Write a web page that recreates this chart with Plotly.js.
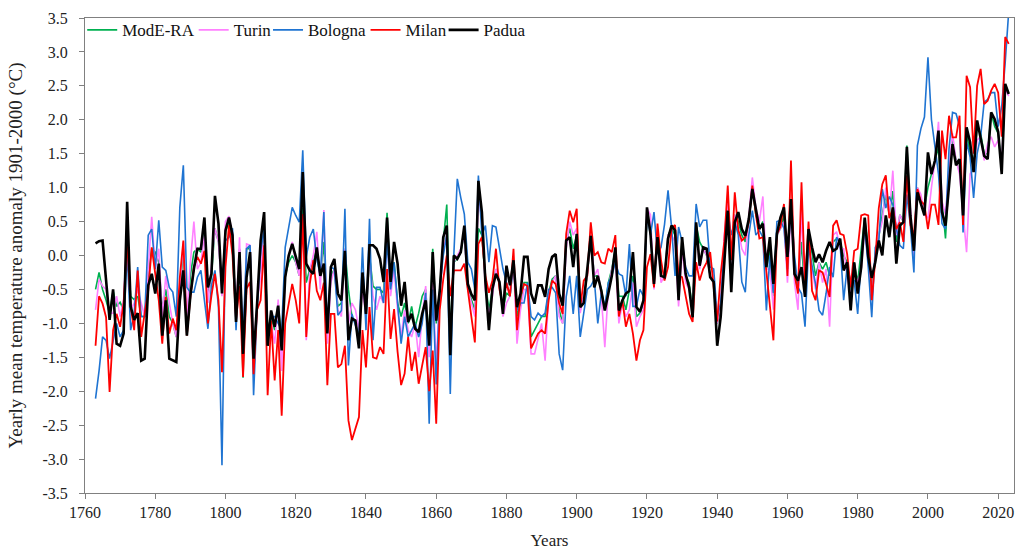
<!DOCTYPE html>
<html>
<head>
<meta charset="utf-8">
<script src="https://cdn.plot.ly/plotly-3.0.1.min.js"></script>
<style>
html,body{margin:0;padding:0;background:#ffffff;}
#chart{width:1025px;height:550px;}
</style>
</head>
<body>
<div id="chart"></div>
<script>
// ---- DATA (yearly anomalies, 1763-2023) ----
const firstYear = 1763;
const lastYear = 2023;

const modera = [
 -0.5,-0.25,-0.5,-0.66,-0.86,-0.52,-0.75,
 -0.69,-0.8,0.2,-0.6,-0.65,-0.6,-0.9,-0.9,-0.3,0.1,
 0.05,-0.1,-0.8,-0.5,-0.9,-1.0,-1.2,-0.6,0.1,-1.0,
 -0.3,0.05,0.1,0.05,0.35,-0.6,-0.3,0.4,0.2,-0.5,
 0.35,0.5,0.25,-0.95,0.1,-1.8,0.1,0.1,-1.55,-0.7,
 -0.2,0.4,-1.1,-0.9,-1.1,-0.7,-1.3,-0.3,-0.1,0.0,
 -0.1,-0.3,0.7,-0.4,-0.2,-0.1,0.1,-0.3,0.2,-1.1,
 -0.3,-0.2,-0.75,-0.7,0.1,-0.5,-0.9,-1.0,-1.2,-0.3,
 -0.9,0.0,-0.45,-0.5,-0.5,-0.55,0.63,-0.5,-0.1,-0.7,
 -0.9,-0.7,-1.0,-0.75,-1.05,-0.85,-0.6,-0.5,-1.3,0.1,
 -1.0,-0.5,0.2,0.75,-1.2,-0.1,-0.05,0.05,0.35,-0.5,
 -0.65,-0.8,0.4,0.3,-0.4,-0.8,-0.5,-0.2,-0.4,-0.8,
 -0.55,-0.6,-0.1,-0.9,-0.7,-0.4,-0.4,-1.2,-1.1,-1.0,
 -0.9,-0.9,-0.55,-0.35,-0.3,-0.8,-1.0,0.2,0.4,0.1,
 0.3,-0.8,-0.6,-0.3,0.3,-0.3,-0.3,-0.5,-0.8,-0.4,
 -0.2,0.1,-0.6,-0.6,-0.8,-0.5,-0.3,-0.9,-0.85,-0.7,
 0.6,0.4,-0.4,0.3,-0.3,-0.3,0.3,0.4,0.3,-0.5,
 0.2,-0.3,-0.4,-0.8,0.45,0.2,0.1,0.0,-0.3,-0.4,
 -1.0,-0.8,0.1,0.7,-0.4,0.6,0.5,0.3,0.2,0.5,
 1.0,0.6,0.4,0.5,-0.2,0.1,-0.6,0.3,0.4,0.6,
 -0.2,0.8,-0.3,-0.5,0.2,-0.6,0.35,0.0,-0.3,-0.1,
 -0.2,-0.1,-0.3,0.2,0.25,0.2,0.0,-0.1,-0.6,-0.1,
 -0.4,0.1,0.55,0.1,-0.5,-0.05,0.3,0.6,0.9,0.6,
 0.95,0.2,0.6,0.5,1.62,0.6,0.05,1.0,0.8,0.7,
 1.0,1.2,1.4,1.6,0.8,0.25,1.2,1.7,1.4,1.4,
 0.6,1.8,1.5,1.3,1.9,1.8,1.5,1.5,2.1,1.9,
 1.8,1.3,2.5,2.4
];

const turin = [
 -0.8,-0.35,-0.45,-0.5,-0.85,-0.85,-0.6,
 -0.9,-0.65,0.35,-0.8,-0.7,-0.5,-0.7,-0.9,-0.2,0.57,
 -0.2,0.1,-0.9,-0.3,-0.7,-1.0,-1.2,-0.5,0.2,-0.9,
 -0.1,0.5,-0.2,-0.1,0.3,-0.7,-0.2,0.4,0.2,-0.6,
 0.5,0.58,0.3,-0.9,0.27,-1.6,0.17,0.15,-1.4,-0.7,
 -0.3,0.5,-1.2,-1.0,-1.3,-0.65,-1.7,-0.3,0.0,0.2,
 -0.1,-0.3,0.6,-1.25,-0.2,0.0,0.35,-0.5,0.67,-1.3,
 -0.4,-0.2,-0.8,-0.9,0.1,-1.0,-0.7,-0.8,-1.1,-0.5,
 -0.9,0.0,-0.6,-0.8,-0.6,-0.7,0.3,-0.6,-0.2,-0.8,
 -1.2,-0.8,-1.1,-1.2,-1.0,-1.5,-0.9,-0.45,-1.5,-0.4,
 -1.6,-0.6,0.1,0.3,-1.3,-0.1,0.0,0.1,0.3,-0.5,
 -0.7,-0.9,0.9,0.5,-0.5,-0.9,-0.6,-0.2,-0.4,-0.9,
 -0.7,-0.6,-0.1,-1.3,-0.8,-0.5,-0.5,-1.45,-1.45,-1.2,
 -1.0,-1.55,-0.6,-0.4,-0.3,-0.9,-1.0,0.1,0.5,0.3,
 0.4,-0.85,-0.6,-0.3,0.3,-0.3,-0.2,-0.6,-1.35,-0.5,
 -0.2,0.0,-1.0,-0.7,-0.9,-0.8,-0.4,-1.05,-0.9,-0.8,
 0.7,0.6,-0.5,0.3,-0.4,-0.3,0.3,0.3,0.2,-0.75,
 0.1,-0.4,-0.5,-0.8,0.4,-0.2,0.1,0.0,-0.3,-0.4,
 -1.0,-0.7,0.3,0.8,-0.4,0.6,0.4,0.1,0.0,0.6,
 1.15,0.7,0.5,0.87,-0.2,-0.2,-0.8,0.3,0.4,0.5,
 -0.4,0.7,-0.4,-0.8,0.67,-0.6,0.3,-0.2,-0.5,-0.1,
 -0.4,-0.2,-1.05,0.3,0.35,0.1,0.1,-0.3,-0.6,-0.2,
 -0.4,-0.2,0.4,-0.1,-0.6,0.0,0.3,0.5,1.0,0.6,
 1.25,0.3,0.6,0.5,1.1,0.7,0.0,1.0,0.9,0.6,
 0.55,1.0,1.4,1.97,0.8,0.6,1.3,1.8,1.4,1.2,
 0.6,0.05,1.2,1.3,1.7,1.75,1.4,1.65,1.75,1.6,
 1.7,1.4,2.45,2.35
];

const bologna = [
 -2.11,-1.7,-1.2,-1.25,-1.52,-1.25,-1.0,
 -1.2,-1.1,0.05,-1.1,-0.85,-0.17,-0.9,-0.9,0.3,0.39,
 -0.2,0.52,-0.17,-0.22,-0.47,-0.54,-0.9,0.71,1.33,-0.47,
 -0.54,-0.54,-0.32,-0.22,-0.66,-1.08,-0.44,-0.22,-0.76,-3.09,
 0.22,0.27,0.4,-1.1,0.0,-1.2,0.1,0.15,-2.06,-0.8,
 0.05,0.4,-1.2,-0.9,-0.9,-1.0,-1.1,0.12,0.42,0.71,
 0.59,0.49,1.55,-0.02,0.27,0.39,-0.05,-0.3,0.64,-1.1,
 -0.17,-0.2,-0.88,-0.81,0.69,-1.62,-0.86,-1.05,-1.2,0.12,
 -1.1,0.54,-1.25,-0.47,-0.47,-0.7,0.2,-0.5,-0.1,-0.7,
 -1.3,-0.9,-1.2,-1.1,-1.0,-1.2,-1.0,-0.55,-2.48,-0.5,
 -1.9,-0.5,0.0,0.3,-2.04,0.0,1.13,0.85,0.61,-0.1,
 -0.2,-0.5,1.18,0.3,0.44,-0.1,0.44,0.42,0.1,-0.2,
 -0.4,-0.6,-0.1,-0.81,-0.7,-0.7,-0.4,-0.9,-0.95,-0.85,
 -0.9,-0.85,-0.5,-0.47,-0.55,-1.45,-1.69,-0.61,-0.3,-0.86,
 -0.3,-1.2,-0.85,-0.5,-0.45,-0.35,-1.0,-0.55,-0.75,-0.4,
 -0.3,-0.1,-0.27,-0.3,-0.6,0.17,-0.75,-0.75,-0.5,-0.6,
 0.6,0.3,0.64,0.02,0.12,0.46,0.96,0.42,-0.3,0.42,
 0.2,-0.17,-0.3,-0.3,0.76,0.42,0.52,0.52,-0.17,-0.2,
 -0.9,-0.7,0.1,0.66,0.3,0.5,0.3,-0.39,-0.54,0.3,
 0.66,0.3,0.37,0.27,-0.81,0.0,-0.55,0.5,0.52,0.4,
 -0.2,0.81,0.0,-0.47,-0.56,-1.05,0.12,-0.17,-0.42,-0.81,
 -0.88,-0.56,-0.17,-0.32,0.27,0.17,-0.66,-0.17,-0.37,-0.37,
 -0.86,-0.07,0.42,-0.17,-0.91,0.12,0.22,0.98,0.7,0.87,
 0.75,0.4,0.15,0.1,0.9,0.44,-0.25,1.62,1.87,2.04,
 2.92,2.0,1.62,1.2,0.47,0.39,1.57,2.11,2.09,1.91,
 0.34,1.67,1.45,0.85,1.5,1.75,2.26,2.3,2.4,2.4,
 1.9,2.2,2.85,3.6
];

const milan = [
 -1.33,-0.6,-0.71,-0.91,-2.01,-1.1,-0.86,
 -1.05,-0.7,0.22,-0.76,-1.1,-0.22,-1.2,-0.85,-0.52,0.12,
 -0.27,-0.66,-1.3,-0.61,-1.15,-0.93,-1.1,-0.32,0.22,-1.18,
 -0.61,-0.17,-0.02,-0.12,0.07,-1.0,-0.59,-0.27,-0.66,-1.72,
 -0.17,0.45,0.0,-0.95,-0.45,-1.79,-0.49,-0.39,-1.75,-0.8,
 -0.66,0.15,-2.06,-0.96,-1.84,-1.1,-2.36,-1.0,-0.71,-0.42,
 -0.66,-1.0,0.61,-1.2,-0.42,-0.07,-0.52,-0.66,-0.4,-1.91,
 -0.86,-0.86,-1.65,-1.6,-1.33,-2.43,-2.72,-2.55,-2.38,-1.1,
 -1.65,-0.76,-1.5,-1.52,-1.35,-1.45,-0.2,-1.23,-0.79,-1.42,
 -1.91,-1.74,-1.2,-1.7,-1.42,-1.89,-1.6,-1.35,-2.0,-1.4,
 -2.48,-0.8,-0.35,0.0,-0.6,-0.22,-0.22,-0.22,-0.12,-0.55,
 -0.9,-1.28,0.17,0.27,-0.3,-0.55,-0.37,0.1,-0.5,-0.75,
 -0.4,-0.6,0.1,-1.1,-0.6,-0.42,-0.45,-1.37,-1.25,-1.15,
 -1.1,-1.15,-0.66,-0.37,-0.42,-0.7,-0.86,0.32,0.66,0.49,
 0.69,-0.76,-0.37,-0.3,0.49,0.0,0.05,-0.1,-0.12,0.1,
 0.05,0.3,-0.9,-0.66,-1.05,-0.86,-1.15,-1.55,-1.25,-1.1,
 -0.17,0.02,-0.47,0.47,-0.07,-0.37,-0.17,0.4,0.45,-0.3,
 -0.32,-0.61,-0.86,-0.98,-0.1,-0.37,-0.2,-0.1,0.05,-0.47,
 -0.97,-0.27,0.2,1.03,-0.07,0.93,0.37,0.22,0.27,0.5,
 1.03,0.61,0.25,0.27,-0.27,-0.76,-1.25,0.32,0.42,0.76,
 -0.3,1.4,-0.27,-0.56,1.08,-0.42,0.5,-0.52,-0.66,-0.22,
 -0.25,-0.42,-0.61,0.44,0.52,0.32,0.3,0.02,-0.47,0.07,
 0.1,0.59,0.61,0.59,-0.66,-0.07,0.7,1.05,1.18,0.55,
 0.7,0.39,0.49,0.2,1.18,0.45,0.3,0.98,0.8,0.75,
 0.39,0.75,0.75,0.45,1.84,1.42,2.06,1.74,1.74,2.06,
 0.45,2.65,2.48,1.5,2.5,2.75,2.23,2.28,2.43,2.53,
 2.4,1.75,3.22,3.12
];

const padua = [
 0.18,0.21,0.22,-0.35,-0.95,-0.5,-1.3,
 -1.33,-1.15,0.79,-0.75,-0.95,-0.85,-1.55,-1.52,-0.44,-0.27,
 -0.56,-0.12,-1.18,-0.66,-1.52,-1.55,-1.57,-0.66,-0.22,-1.18,
 -0.59,-0.2,0.1,0.1,0.56,-0.47,-0.27,0.88,0.47,-0.56,
 0.37,0.56,0.3,-0.98,0.05,-1.45,-0.32,0.05,-1.52,-0.71,
 0.22,0.64,-1.33,-0.81,-1.05,-0.74,-1.4,-0.32,0.0,0.17,
 -0.02,-0.2,1.23,-0.12,-0.22,-0.27,0.12,-0.3,-0.12,-1.15,
 -0.17,-0.05,-0.56,-0.66,0.07,-1.25,-0.93,-0.96,-1.37,-0.25,
 -0.86,0.15,0.15,0.1,-0.05,-0.39,0.56,-0.39,0.2,-0.12,
 -0.74,-0.39,-0.98,-0.86,-1.08,-1.13,-0.86,-0.66,-1.33,0.05,
 -0.96,-0.52,0.27,0.44,-1.47,0.0,-0.05,0.05,0.44,-0.42,
 -0.57,-0.66,1.1,0.64,-0.39,-1.1,-0.49,-0.27,-0.39,-0.86,
 -0.15,-0.44,-0.07,-0.76,-0.56,-0.02,-0.02,-0.56,-0.71,-0.44,
 -0.44,-0.61,-0.2,-0.02,0.02,-0.56,-0.74,0.22,0.27,-0.17,
 0.32,-0.76,-0.7,-0.2,0.29,-0.47,-0.3,-0.52,-0.81,-0.56,
 -0.3,0.12,-0.81,-0.66,-0.56,-0.52,0.05,-0.76,-0.83,-0.66,
 0.71,0.32,-0.42,0.27,-0.3,-0.32,0.25,0.44,0.37,-0.66,
 0.27,-0.27,-0.47,-0.91,0.49,-0.15,0.12,0.1,-0.32,-0.39,
 -1.33,-0.9,-0.12,0.66,-0.54,0.49,0.64,0.39,0.29,0.54,
 0.98,0.66,0.39,0.47,-0.17,0.27,-0.42,0.32,0.56,0.71,
 -0.02,0.83,-0.27,-0.37,-0.17,-0.61,0.39,0.12,-0.1,0.02,
 -0.1,0.07,0.2,0.07,0.1,0.25,-0.22,-0.1,-0.81,-0.1,
 -0.56,-0.17,0.56,-0.02,-0.33,-0.1,0.22,0.0,0.59,0.27,
 0.71,-0.12,0.44,0.49,1.6,0.59,0.07,0.93,0.74,0.59,
 1.52,1.2,1.4,1.84,0.64,0.44,1.03,1.64,1.33,1.42,
 0.59,1.89,1.67,1.23,1.99,1.72,1.47,1.42,2.11,2.01,
 1.82,1.2,2.53,2.38
];

const seriesNames = ['ModE-RA', 'Turin', 'Bologna', 'Milan', 'Padua'];
const xTickVals = [1760,1780,1800,1820,1840,1860,1880,1900,1920,1940,1960,1980,2000,2020];
const yTickVals = [-3.5,-3.0,-2.5,-2.0,-1.5,-1.0,-0.5,0.0,0.5,1.0,1.5,2.0,2.5,3.0,3.5];
const yTickText = ['-3.5','-3.0','-2.5','-2.0','-1.5','-1.0','-0.5','0.0','0.5','1.0','1.5','2.0','2.5','3.0','3.5'];

// ---- CHART ----
const years = [];
for (let y = firstYear; y <= lastYear; y++) years.push(y);

const seriesData = [modera, turin, bologna, milan, padua];
const colors = ['#00b050', '#ff80ff', '#1f74d2', '#ff0000', '#000000'];
const widths = [1.6, 1.6, 1.6, 1.8, 2.6];
const legendIds = ['legend', 'legend2', 'legend3', 'legend4', 'legend5'];
const legendX = [-0.003, 0.117, 0.197, 0.302, 0.386];

const traces = seriesData.map((vals, i) => ({
  type: 'scatter',
  mode: 'lines',
  name: seriesNames[i],
  legend: legendIds[i],
  x: years.slice(0, vals.length),
  y: vals,
  line: {color: colors[i], width: widths[i]},
  hoverinfo: 'x+y+name'
}));

const fontFam = '"Liberation Serif", "Times New Roman", serif';

function legendSpec(xPos) {
  return {
    orientation: 'h',
    x: xPos, y: 1.012,
    xanchor: 'left', yanchor: 'top',
    bgcolor: 'rgba(255,255,255,0)',
    font: {family: fontFam, size: 17, color: '#111111'},
    itemwidth: 30
  };
}

const layout = {
  width: 1025,
  height: 550,
  margin: {l: 85, r: 11, t: 18, b: 57},
  paper_bgcolor: '#ffffff',
  plot_bgcolor: '#ffffff',
  font: {family: fontFam, size: 16, color: '#222222'},
  showlegend: true,
  xaxis: {
    range: [1760, 2024.5],
    tickvals: xTickVals,
    ticktext: xTickVals.map(String),
    ticks: 'outside',
    ticklen: 5,
    tickcolor: '#808080',
    showline: true,
    linecolor: '#808080',
    linewidth: 1,
    mirror: true,
    showgrid: false,
    zeroline: false,
    tickfont: {family: fontFam, size: 16, color: '#222222'},
    title: {text: 'Years', font: {family: fontFam, size: 17, color: '#222222'}}
  },
  yaxis: {
    range: [-3.5, 3.5],
    tickvals: yTickVals,
    ticktext: yTickText,
    ticks: 'outside',
    ticklen: 5,
    tickcolor: '#808080',
    showline: true,
    linecolor: '#808080',
    linewidth: 1,
    mirror: true,
    showgrid: false,
    zeroline: false,
    ticklabelstandoff: 8,
    tickfont: {family: fontFam, size: 16, color: '#222222'},
    title: {text: 'Yearly mean temperature anomaly 1901-2000 (°C)', standoff: 14,
            font: {family: fontFam, size: 19, color: '#222222'}}
  }
};
legendIds.forEach((id, i) => { layout[id] = legendSpec(legendX[i]); });

Plotly.newPlot('chart', traces, layout, {displayModeBar: false, staticPlot: true});
</script>
</body>
</html>
